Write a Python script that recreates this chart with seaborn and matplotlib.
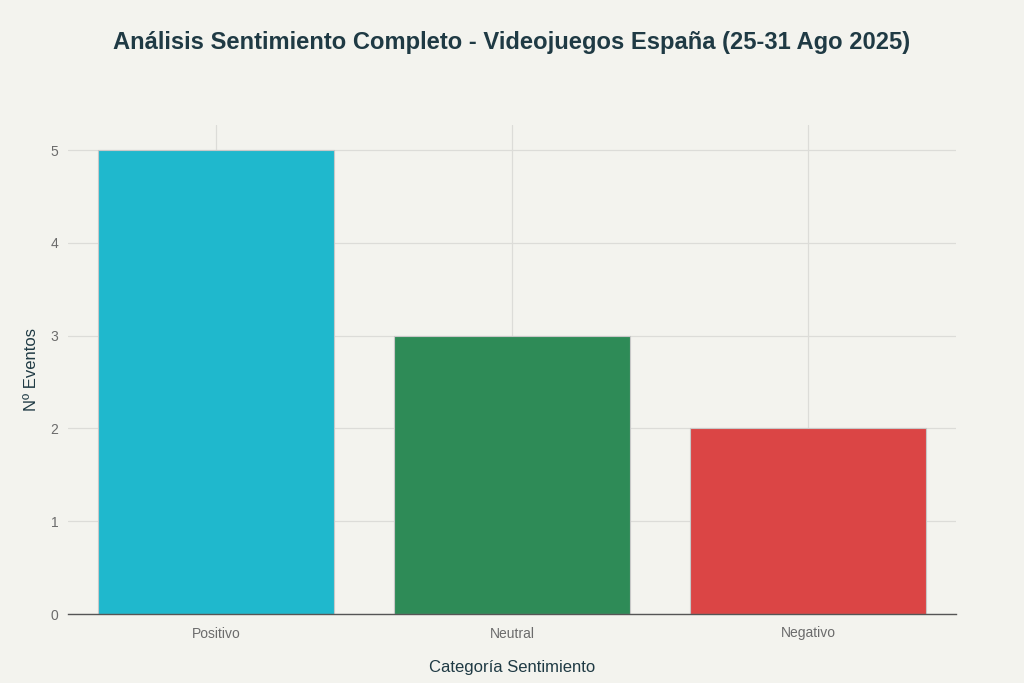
import matplotlib
matplotlib.use("Agg")
import matplotlib.pyplot as plt
import seaborn as sns
import pandas as pd

categories = ["Positivo", "Neutral", "Negativo"]
values = [5, 3, 2]
colors = ["#1FB8CD", "#2E8B57", "#DB4545"]

bg = "#F3F3EE"
sns.set_theme(style="whitegrid")
plt.rcParams['font.family'] = ['Liberation Sans', 'DejaVu Sans']

df = pd.DataFrame({"cat": categories, "val": values})

fig = plt.figure(figsize=(10.24, 6.83), dpi=100, facecolor=bg)
ax = fig.add_axes([68/1024, 1 - 614/683, (956-68)/1024, (614-125)/683])
ax.set_facecolor(bg)

sns.barplot(data=df, x="cat", y="val", hue="cat", palette=colors, legend=False,
            width=0.8, edgecolor="#c8c8c8", linewidth=0.8, ax=ax, saturation=1)

ax.set_xlim(-0.5, 2.5)
ax.set_ylim(0, 5.27)
ax.set_yticks([0, 1, 2, 3, 4, 5])
ax.grid(True, axis="both", color="#DCDCD8", linewidth=0.9)
ax.set_axisbelow(True)
for s in ["top", "right", "left"]:
    ax.spines[s].set_visible(False)
ax.spines["bottom"].set_color("#555555")
ax.spines["bottom"].set_linewidth(1.0)

ax.tick_params(axis="x", length=5, color="#d0d0d0", labelsize=10, labelcolor="#6b6b6b", pad=4)
ax.tick_params(axis="y", length=0, labelsize=10, labelcolor="#6b6b6b", pad=7)

ax.set_xlabel("Categoría Sentimiento", fontsize=12, color="#1F3A44", labelpad=14)
ax.set_ylabel("Nº Eventos", fontsize=12, color="#1F3A44", labelpad=8)

fig.text(0.5, 1 - 43/683, "Análisis Sentimiento Completo - Videojuegos España (25-31 Ago 2025)",
         ha="center", va="center", fontsize=17.1, fontweight="bold", color="#1F3A44")

fig.savefig("out.png", dpi=100, facecolor=bg)
